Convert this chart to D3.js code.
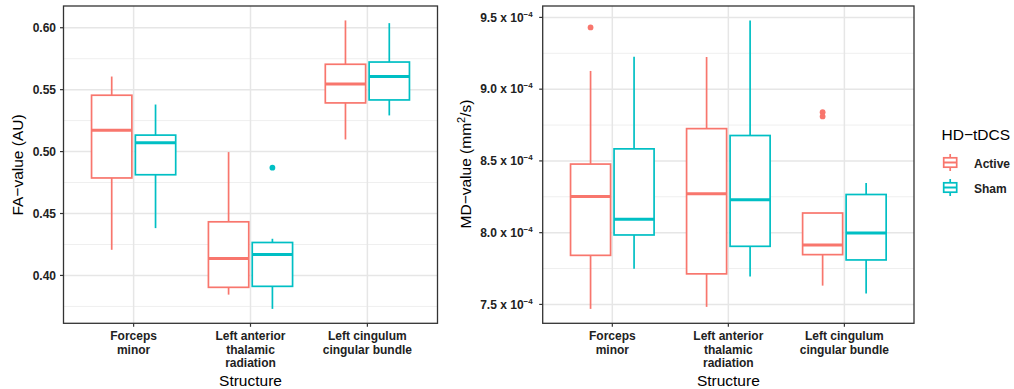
<!DOCTYPE html>
<html><head><meta charset="utf-8">
<script src="https://cdn.jsdelivr.net/npm/d3@7"></script>
<style>
body{margin:0;background:#fff;}
svg{display:block;font-family:"Liberation Sans",Arial,sans-serif;}
</style></head>
<body><svg id="c" width="1014" height="389"></svg>
<script>
// ---- data ----
const categories = ["Forceps minor", "Left anterior thalamic radiation", "Left cingulum cingular bundle"];
const categoryLabels = [["Forceps", "minor"], ["Left anterior", "thalamic", "radiation"], ["Left cingulum", "cingular bundle"]];
const groups = ["Active", "Sham"];
// box stats: [lower whisker, Q1, median, Q3, upper whisker]
const faActive = [
  [0.4207, 0.4787, 0.5173, 0.5455, 0.5606],
  [0.3845, 0.3904, 0.4137, 0.4433, 0.4996],
  [0.5098, 0.5393, 0.5546, 0.5705, 0.6059]
];
const faSham = [
  [0.4382, 0.4813, 0.5071, 0.5133, 0.5380],
  [0.3730, 0.3912, 0.4170, 0.4266, 0.4296],
  [0.5292, 0.5417, 0.5606, 0.5723, 0.6037]
];
const faOutlierCat = [1];
const faOutlierGroup = ["Sham"];
const faOutlierValue = [0.487];
const faTicks = [0.40, 0.45, 0.50, 0.55, 0.60];
const faTickLabels = ["0.40", "0.45", "0.50", "0.55", "0.60"];

// MD values in units of 1e-4 mm^2/s
const mdActive = [
  [7.469, 7.842, 8.252, 8.478, 9.127],
  [7.483, 7.713, 8.271, 8.725, 9.224],
  [7.631, 7.847, 7.914, 8.137, 8.137]
];
const mdSham = [
  [7.748, 7.984, 8.093, 8.584, 9.226],
  [7.694, 7.905, 8.229, 8.677, 9.479],
  [7.576, 7.810, 7.998, 8.266, 8.346]
];
const mdOutlierCat = [0, 2, 2];
const mdOutlierGroup = ["Active", "Active", "Active"];
const mdOutlierValue = [9.430, 8.840, 8.810];
const mdTicks = [7.5, 8.0, 8.5, 9.0, 9.5];
const mdTickLabels = ["7.5", "8.0", "8.5", "9.0", "9.5"];
const mdExponent = "\u22124";

const colors = {Active: "#F8766D", Sham: "#00BFC4"};

// ---- drawing ----
const svg = d3.select("#c");

function panel(opt) {
  const {x0, x1, y0, y1, active, sham, oCat, oGroup, oVal, ticks, tickLabels, exponent, labelGap} = opt;
  const all = active.flat().concat(sham.flat()).concat(oVal);
  const lo = d3.min(all), hi = d3.max(all), pad = (hi - lo) * 0.05;
  const y = d3.scaleLinear().domain([lo - pad, hi + pad]).range([y1, y0]);
  const x = d3.scalePoint().domain(categories).range([x0, x1]).padding(0.6);
  const step = x.step();
  const off = {Active: -0.1875 * step, Sham: 0.1875 * step};
  const bw = 0.345 * step;
  const g = svg.append("g");

  // grid
  const minor = d3.range(ticks.length + 1).map(i => {
    const d = ticks[1] - ticks[0];
    return ticks[0] - d / 2 + i * d;
  }).filter(v => v > y.domain()[0] && v < y.domain()[1]);
  g.selectAll(".mn").data(minor).join("line")
    .attr("x1", x0).attr("x2", x1).attr("y1", d => y(d)).attr("y2", d => y(d))
    .attr("stroke", "#EFEFEF").attr("stroke-width", 1);
  g.selectAll(".mj").data(ticks).join("line")
    .attr("x1", x0).attr("x2", x1).attr("y1", d => y(d)).attr("y2", d => y(d))
    .attr("stroke", "#E6E6E6").attr("stroke-width", 1.5);
  g.selectAll(".vx").data(categories).join("line")
    .attr("x1", d => x(d)).attr("x2", d => x(d)).attr("y1", y0).attr("y2", y1)
    .attr("stroke", "#E6E6E6").attr("stroke-width", 1.5);

  // boxes
  const series = [["Active", active], ["Sham", sham]];
  series.forEach(([grp, stats]) => {
    const col = colors[grp];
    stats.forEach((s, i) => {
      const cx = x(categories[i]) + off[grp];
      const bg = g.append("g").attr("stroke", col).attr("fill", "none");
      bg.append("line").attr("x1", cx).attr("x2", cx).attr("y1", y(s[4])).attr("y2", y(s[3])).attr("stroke-width", 1.7);
      bg.append("line").attr("x1", cx).attr("x2", cx).attr("y1", y(s[1])).attr("y2", y(s[0])).attr("stroke-width", 1.7);
      bg.append("rect").attr("x", cx - bw / 2).attr("y", y(s[3])).attr("width", bw)
        .attr("height", y(s[1]) - y(s[3])).attr("fill", "#fff").attr("stroke-width", 1.7);
      bg.append("line").attr("x1", cx - bw / 2).attr("x2", cx + bw / 2).attr("y1", y(s[2])).attr("y2", y(s[2])).attr("stroke-width", 3);
    });
  });
  oVal.forEach((v, i) => {
    g.append("circle").attr("cx", x(categories[oCat[i]]) + off[oGroup[i]]).attr("cy", y(v))
      .attr("r", 2.9).attr("fill", colors[oGroup[i]]);
  });

  // border
  g.append("rect").attr("x", x0).attr("y", y0).attr("width", x1 - x0).attr("height", y1 - y0)
    .attr("fill", "none").attr("stroke", "#333").attr("stroke-width", 1.3);

  // y axis ticks
  g.selectAll(".yt").data(ticks).join("line")
    .attr("x1", x0 - 3.5).attr("x2", x0).attr("y1", d => y(d)).attr("y2", d => y(d))
    .attr("stroke", "#333").attr("stroke-width", 1.2);
  const yl = g.selectAll(".yl").data(ticks).join("text")
    .attr("x", x0 - labelGap).attr("y", d => y(d) + 4.3).attr("text-anchor", "end")
    .attr("font-size", 12).attr("font-weight", "bold").attr("fill", "#222");
  if (exponent) {
    yl.each(function (d, i) {
      const t = d3.select(this);
      t.append("tspan").text(tickLabels[i] + " x 10");
      t.append("tspan").attr("dy", -5).attr("font-size", 8).text(exponent);
    });
  } else {
    yl.text((d, i) => tickLabels[i]);
  }

  // x axis ticks
  g.selectAll(".xt").data(categories).join("line")
    .attr("x1", d => x(d)).attr("x2", d => x(d)).attr("y1", y1).attr("y2", y1 + 3.5)
    .attr("stroke", "#333").attr("stroke-width", 1.2);
  categories.forEach((c, i) => {
    const t = g.append("text").attr("text-anchor", "middle").attr("font-size", 12)
      .attr("font-weight", "bold").attr("fill", "#222");
    categoryLabels[i].forEach((ln, j) => {
      t.append("tspan").attr("x", x(c)).attr("y", 340 + j * 13.5).text(ln);
    });
  });
  g.append("text").attr("x", (x0 + x1) / 2).attr("y", 386).attr("text-anchor", "middle")
    .attr("font-size", 15.5).attr("fill", "#000").text("Structure");
  return g;
}

panel({x0: 63.5, x1: 437.5, y0: 6, y1: 323.3, active: faActive, sham: faSham,
  oCat: faOutlierCat, oGroup: faOutlierGroup, oVal: faOutlierValue,
  ticks: faTicks, tickLabels: faTickLabels, exponent: null, labelGap: 7.5});
panel({x0: 542.7, x1: 914, y0: 6, y1: 323.3, active: mdActive, sham: mdSham,
  oCat: mdOutlierCat, oGroup: mdOutlierGroup, oVal: mdOutlierValue,
  ticks: mdTicks, tickLabels: mdTickLabels, exponent: mdExponent, labelGap: 10});

// y titles
svg.append("text").attr("transform", "translate(23,165) rotate(-90)").attr("text-anchor", "middle")
  .attr("font-size", 15.5).attr("fill", "#000").text("FA\u2212value (AU)");
const mdt = svg.append("text").attr("transform", "translate(471,164) rotate(-90)").attr("text-anchor", "middle")
  .attr("font-size", 15.5).attr("fill", "#000");
mdt.append("tspan").text("MD\u2212value (mm");
mdt.append("tspan").attr("dy", -6).attr("font-size", 11).text("2");
mdt.append("tspan").attr("dy", 6).text("/s)");

// legend
const lg = svg.append("g");
lg.append("text").attr("x", 941.5).attr("y", 140).attr("font-size", 15.5).attr("fill", "#000").text("HD\u2212tDCS");
groups.forEach((grp, i) => {
  const cy = 162.5 + i * 25;
  const cx = 950.2, w = 13;
  const k = lg.append("g").attr("stroke", colors[grp]).attr("fill", "none").attr("stroke-width", 1.7);
  k.append("line").attr("x1", cx).attr("x2", cx).attr("y1", cy - 8.5).attr("y2", cy + 8.5);
  k.append("rect").attr("x", cx - w / 2).attr("y", cy - 4.7).attr("width", w).attr("height", 9.4).attr("fill", "#fff");
  k.append("line").attr("x1", cx - w / 2).attr("x2", cx + w / 2).attr("y1", cy).attr("y2", cy).attr("stroke-width", 2);
  lg.append("text").attr("x", 974).attr("y", cy + 5).attr("font-size", 12).attr("font-weight", "bold")
    .attr("fill", "#222").text(grp);
});
</script></body></html>
